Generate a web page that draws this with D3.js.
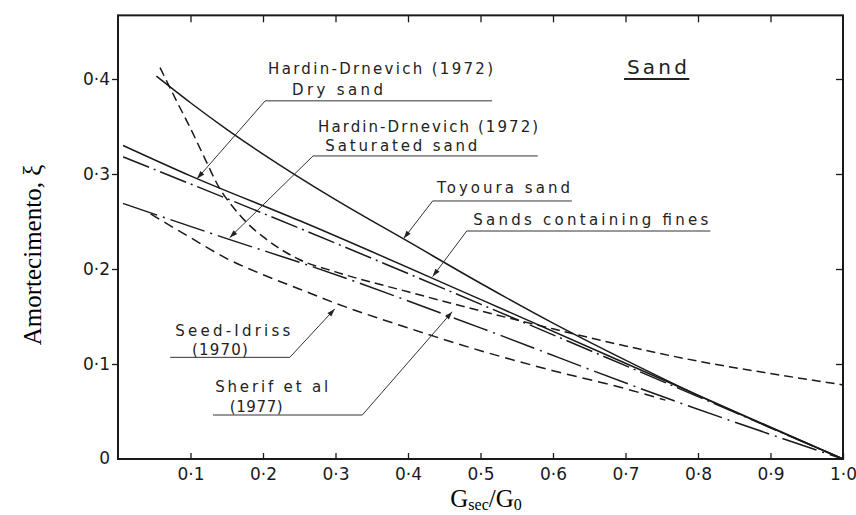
<!DOCTYPE html>
<html><head><meta charset="utf-8">
<script src="https://cdn.jsdelivr.net/npm/d3@7"></script>
<style>body{margin:0;background:#fff}</style>
</head><body><svg id="c" width="856" height="515"></svg>
<script>
// ---- data ----
const xTickValues = [0.1,0.2,0.3,0.4,0.5,0.6,0.7,0.8,0.9,1.0];
const xTickLabels = ["0·1","0·2","0·3","0·4","0·5","0·6","0·7","0·8","0·9","1·0"];
const yTickValues = [0,0.1,0.2,0.3,0.4];
const yTickLabels = ["0","0·1","0·2","0·3","0·4"];

const toyouraX = [0.053,0.1,0.15,0.2,0.3,0.4,0.5,0.6,0.7,0.8,0.9,1.0];
const toyouraY = [0.403,0.375,0.347,0.321,0.273,0.229,0.185,0.143,0.104,0.067,0.033,0];
const dryX = [0.007,0.1,0.25,0.5,0.75,1.0];
const dryY = [0.33,0.298,0.251,0.168,0.084,0];
const finesX = [0.007,0.25,0.5,0.75,1.0];
const finesY = [0.318,0.243,0.163,0.082,0];
const saturatedX = [0.007,0.15,0.27,0.5,0.75,1.0];
const saturatedY = [0.269,0.232,0.202,0.138,0.066,0];
const sherifX = [0.058,0.08,0.1,0.12,0.14,0.16,0.18,0.2,0.22,0.25,0.3,0.4,0.5,0.6,0.7,0.8,0.9,1.0];
const sherifY = [0.412,0.378,0.348,0.316,0.285,0.264,0.247,0.234,0.223,0.21,0.197,0.176,0.156,0.137,0.119,0.103,0.09,0.078];
const seedX = [0.045,0.1,0.15,0.2,0.25,0.3,0.4,0.5,0.6,0.7,0.755];
const seedY = [0.258,0.233,0.211,0.194,0.179,0.164,0.138,0.114,0.093,0.074,0.062];

// ---- layout ----
const svg = d3.select("#c");
const x = d3.scaleLinear().domain([0,1]).range([118,843]);
const y = d3.scaleLinear().domain([0,0.4]).range([459,79]);
const yTop = 0.467;
const ink = "#1a1a1a";
const labFont = "'DejaVu Sans', Verdana, sans-serif";

// frame
svg.append("rect").attr("x",x(0)).attr("y",y(yTop)).attr("width",x(1)-x(0)).attr("height",y(0)-y(yTop))
  .attr("fill","none").attr("stroke",ink).attr("stroke-width",2);

// axes
const fmtX = d => xTickLabels[xTickValues.indexOf(d)];
const fmtY = d => yTickLabels[yTickValues.indexOf(d)];
const gB = svg.append("g").attr("transform",`translate(0,${y(0)})`)
  .call(d3.axisBottom(x).tickValues(xTickValues).tickFormat(fmtX).tickSizeInner(-6).tickSizeOuter(0).tickPadding(9));
const gT = svg.append("g").attr("transform",`translate(0,${y(yTop)})`)
  .call(d3.axisTop(x).tickValues(xTickValues.slice(0,9)).tickFormat("").tickSizeInner(-7).tickSizeOuter(0));
const gL = svg.append("g").attr("transform",`translate(${x(0)},0)`)
  .call(d3.axisLeft(y).tickValues(yTickValues.slice(1)).tickFormat(fmtY).tickSizeInner(6).tickSizeOuter(0).tickPadding(2));
const gR = svg.append("g").attr("transform",`translate(${x(1)},0)`)
  .call(d3.axisRight(y).tickValues(yTickValues.slice(1)).tickFormat("").tickSizeInner(-7).tickSizeOuter(0));
svg.append("text").attr("x",x(0)-8).attr("y",y(0)).attr("dy","0.32em").attr("text-anchor","end")
  .attr("font-family",labFont).attr("font-size",17).attr("fill",ink).text(yTickLabels[0]);
[gB,gT,gL,gR].forEach(g=>{
  g.select(".domain").remove();
  g.selectAll(".tick line").attr("stroke",ink).attr("stroke-width",1.3);
  g.selectAll(".tick text").attr("font-family",labFont).attr("font-size",17).attr("fill",ink);
});

// curves
const line = d3.line().x(d=>x(d[0])).y(d=>y(d[1])).curve(d3.curveMonotoneX);
const zip = (a,b)=>a.map((v,i)=>[v,b[i]]);
const series = [
  {xs:toyouraX, ys:toyouraY, dash:null},
  {xs:dryX, ys:dryY, dash:null},
  {xs:finesX, ys:finesY, dash:"28,5,2,5"},
  {xs:saturatedX, ys:saturatedY, dash:"36,6,2,6"},
  {xs:sherifX, ys:sherifY, dash:"9,5"},
  {xs:seedX, ys:seedY, dash:"10,6"}
];
series.forEach(s=>{
  svg.append("path").attr("d",line(zip(s.xs,s.ys))).attr("fill","none")
    .attr("stroke",ink).attr("stroke-width",1.5)
    .attr("stroke-dasharray",s.dash);
});

// annotations (positions in data units)
const annotations = [
  {lines:[["Hardin-Drnevich (1972)",0.207,0.405,225],["Dry sand",0.240,0.383,91]], shelf:[0.516,0.203,0.377], tip:[0.109,0.295]},
  {lines:[["Hardin-Drnevich (1972)",0.276,0.344,220],["Saturated sand",0.286,0.324,152]], shelf:[0.579,0.269,0.319], tip:[0.154,0.233]},
  {lines:[["Toyoura sand",0.440,0.280,133]], shelf:[0.626,0.434,0.2716], tip:[0.394,0.232]},
  {lines:[["Sands containing fines",0.490,0.246,235]], shelf:[0.817,0.481,0.240], tip:[0.434,0.192]},
  {lines:[["Seed-Idriss",0.079,0.129,115],["(1970)",0.102,0.110,56]], shelf:[0.072,0.237,0.107], tip:[0.299,0.158]},
  {lines:[["Sherif et al",0.134,0.0705,113],["(1977)",0.154,0.049,53]], shelf:[0.131,0.337,0.0463], tip:[0.461,0.155]}
];
annotations.forEach(a=>{
  a.lines.forEach(l=>{
    svg.append("text").attr("x",x(l[1])).attr("y",y(l[2]))
      .attr("font-family",labFont).attr("font-size",15).attr("fill","#222")
      .attr("textLength",l[3]).attr("lengthAdjust","spacing").text(l[0]);
  });
  const p0=[x(a.shelf[0]),y(a.shelf[2])], p1=[x(a.shelf[1]),y(a.shelf[2])], p2=[x(a.tip[0]),y(a.tip[1])];
  svg.append("path").attr("d",`M${p0}L${p1}L${p2}`).attr("fill","none").attr("stroke","#333").attr("stroke-width",1);
  const ang=Math.atan2(p2[1]-p1[1],p2[0]-p1[0]);
  const L=8, Wd=2.6;
  const bx=p2[0]-L*Math.cos(ang), by=p2[1]-L*Math.sin(ang);
  const nx=-Math.sin(ang)*Wd, ny=Math.cos(ang)*Wd;
  svg.append("path").attr("d",`M${p2}L${[bx+nx,by+ny]}L${[bx-nx,by-ny]}Z`).attr("fill","#222");
});

// "Sand" title
svg.append("text").attr("x",x(0.702)).attr("y",y(0.405)).attr("font-family",labFont).attr("font-size",20)
  .attr("fill","#222").attr("textLength",60).attr("lengthAdjust","spacing").text("Sand");
svg.append("line").attr("x1",x(0.698)).attr("x2",x(0.788)).attr("y1",y(0.40)).attr("y2",y(0.40))
  .attr("stroke","#222").attr("stroke-width",1.8);

// axis titles
svg.append("text").attr("transform",`translate(41,255) rotate(-90)`).attr("text-anchor","middle")
  .attr("font-family","'Liberation Serif','Times New Roman',serif").attr("font-size",25).attr("fill","#000")
  .text("Amortecimento, ξ");
const gt = svg.append("text").attr("x",486).attr("y",507).attr("text-anchor","middle")
  .attr("font-family","'Liberation Serif','Times New Roman',serif").attr("font-size",25).attr("fill","#000");
gt.append("tspan").text("G");
gt.append("tspan").attr("font-size",16).attr("dy",3).text("sec");
gt.append("tspan").attr("dy",-3).text("/G");
gt.append("tspan").attr("font-size",16).attr("dy",3).text("0");
</script></body></html>
